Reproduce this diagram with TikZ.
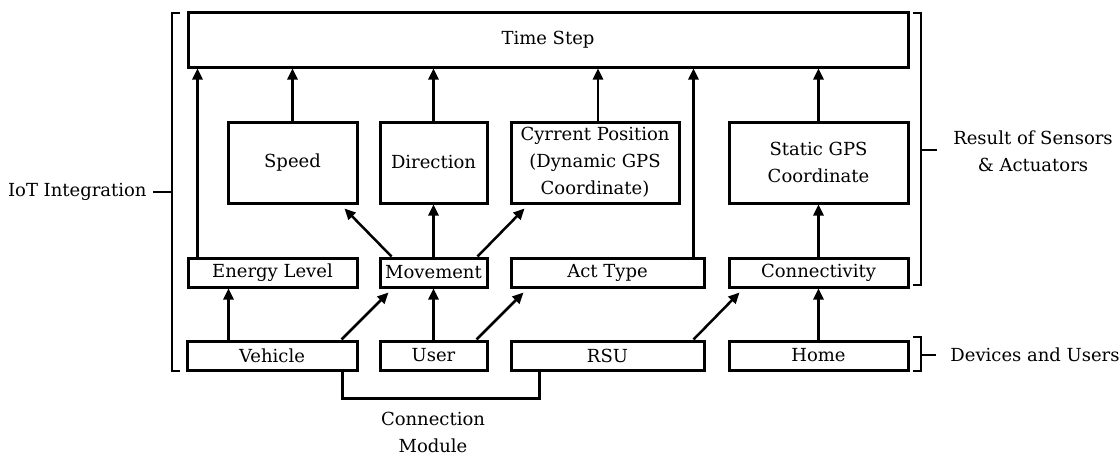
\documentclass[tikz,border=0pt]{standalone}
\usepackage{fontspec}
\setmainfont{DejaVu Serif}
\usetikzlibrary{arrows.meta}
\tikzset{
  box/.style={draw, line width=1.5pt, inner sep=0pt, align=center,
              font=\fontsize{9}{13.5}\selectfont},
  arr/.style={line width=1.25pt, -{Triangle[length=5.5pt,width=5pt]}},
  link/.style={line width=1.25pt},
  brace/.style={line width=1.25pt},
  lbl/.style={inner sep=0pt, align=center, font=\fontsize{9}{13.5}\selectfont}
}
\begin{document}
\begin{tikzpicture}[x=0.5pt,y=-0.5pt]
\useasboundingbox (0,0) rectangle (1120,455);

% top level
\node[box, minimum width=360pt, minimum height=27.5pt] (ts) at (548,39.5) {Time Step};

% results
\node[box, minimum width=64.5pt, minimum height=40.5pt] (sp) at (292.5,162.5) {Speed};
\node[box, minimum width=53.5pt, minimum height=40.5pt] (dr) at (433.5,162.5) {Direction};
\node[box, minimum width=84pt, minimum height=40.5pt] (cp) at (595,162.5) {Cyrrent Position\\(Dynamic GPS\\Coordinate)};
\node[box, minimum width=89.5pt, minimum height=40.5pt] (sg) at (818.5,162.5) {Static GPS\\Coordinate};

% sensors and actuators
\node[box, minimum width=84.5pt, minimum height=14.5pt] (en) at (272.5,272.5) {Energy Level};
\node[box, minimum width=53.5pt, minimum height=14.5pt] (mv) at (433.5,272.5) {Movement};
\node[box, minimum width=96.5pt, minimum height=14.5pt] (at) at (607.5,272.5) {Act Type};
\node[box, minimum width=89.5pt, minimum height=14.5pt] (cn) at (818.5,272.5) {Connectivity};

% devices and users
\node[box, minimum width=85pt, minimum height=14.5pt] (vh) at (272,355.5) {Vehicle};
\node[box, minimum width=53.5pt, minimum height=14.5pt] (us) at (433.5,355.5) {User};
\node[box, minimum width=96.5pt, minimum height=14.5pt] (rsu) at (607.5,355.5) {RSU};
\node[box, minimum width=89.5pt, minimum height=14.5pt] (hm) at (818.5,355.5) {Home};

% into the time step
\draw[arr] ([xshift=5.5pt]en.north west) -- ([xshift=5.5pt]en.north west |- ts.south);
\draw[arr] (sp.north) -- (sp.north |- ts.south);
\draw[arr] (dr.north) -- (dr.north |- ts.south);
\draw[arr] ([xshift=1.5pt]cp.north) -- ([xshift=1.5pt]cp.north |- ts.south);
\draw[arr] ([xshift=-6pt]at.north east) -- ([xshift=-6pt]at.north east |- ts.south);
\draw[arr] (sg.north) -- (sg.north |- ts.south);

% movement results
\draw[arr] ([xshift=6.5pt]mv.north west) -- ([xshift=-7pt,yshift=-2pt]sp.south east);
\draw[arr] (mv.north) -- (dr.south);
\draw[arr] ([xshift=-5.5pt]mv.north east) -- ([xshift=7.5pt,yshift=-2pt]cp.south west);
\draw[arr] (cn.north) -- (sg.south);

% devices to sensors
\draw[arr] ([xshift=21.5pt]vh.north west) -- ([xshift=21.5pt]vh.north west |- en.south);
\draw[arr] ([xshift=-8.5pt]vh.north east) -- ([xshift=5pt,yshift=-2pt]mv.south west);
\draw[arr] (us.north) -- (mv.south);
\draw[arr] ([xshift=-6pt]us.north east) -- ([xshift=7pt,yshift=-2pt]at.south west);
\draw[arr] ([xshift=-6pt]rsu.north east) -- ([xshift=6pt,yshift=-2pt]cn.south west);
\draw[arr] (hm.north) -- (cn.south);

% connection module
\draw[link] ([xshift=-8pt]vh.south east) -- ++(0,27) -| ([xshift=15pt]rsu.south west);
\node[lbl] (cm) at (433,432) {Connection\\Module};

% brackets and their labels
\draw[brace] (180,13) -- (172,13) -- (172,371) -- (180,371);
\node[lbl, anchor=east] (iot) at (147,192) {IoT Integration};
\draw[brace] ([xshift=3pt]iot.east) -- (172,192);

\draw[brace] (913,13) -- (921,13) -- (921,285) -- (913,285);
\node[lbl] (res) at (1033,151) {Result of Sensors\\\& Actuators};
\draw[brace] (921,150) -- (937,150);

\draw[brace] (913,337) -- (921,337) -- (921,371) -- (913,371);
\node[lbl, anchor=west] (dev) at (950,355) {Devices and Users};
\draw[brace] (921,355) -- ([xshift=-7pt]dev.west);
\end{tikzpicture}
\end{document}
